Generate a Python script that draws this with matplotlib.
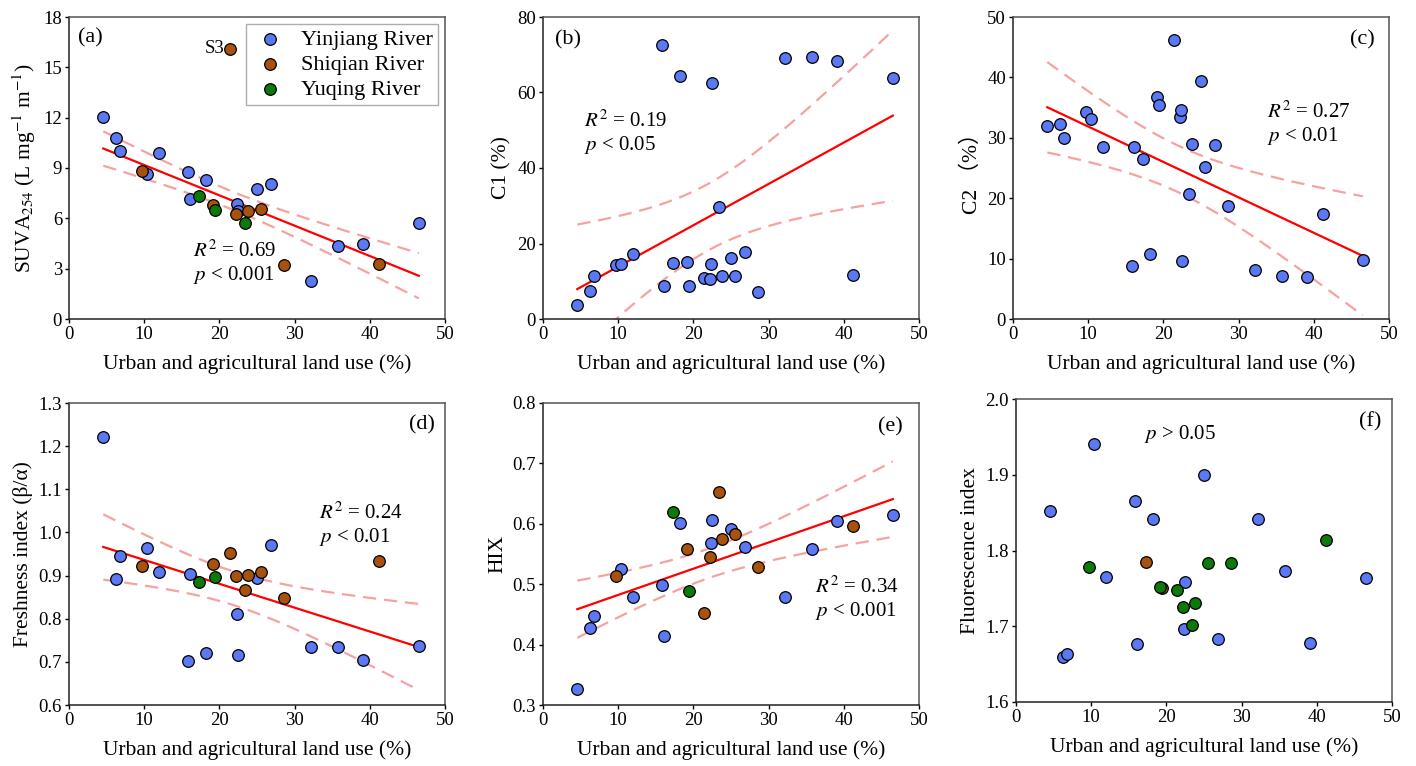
import numpy as np
import matplotlib
matplotlib.use('Agg')
from matplotlib import pyplot as plt

plt.rcParams['font.family'] = ['Liberation Serif', 'Noto Sans CJK SC']
plt.rcParams['mathtext.fontset'] = 'stix'

# land use (%) for each sampling site
land_use = [4.56, 6.2, 6.82, 9.65, 10.36, 11.91, 15.8, 16.12, 17.32, 18.23,
            19.12, 19.4, 21.39, 22.23, 22.28, 22.5, 23.38, 23.82, 25.0, 25.51,
            26.83, 28.65, 32.12, 35.76, 39.08, 41.28, 46.52]

suva = [12.05, 10.77, 10.01, 8.8, 8.66, 9.89, 8.76, 7.18, 7.34, 8.31,
        6.82, 6.5, 16.1, 6.26, 6.84, 6.45, 5.75, 6.42, 7.77, 6.54,
        8.03, 3.23, 2.24, 4.36, 4.5, 3.27, 5.75]
c1 = [3.7, 7.4, 11.45, 14.2, 14.6, 17.1, 72.5, 8.7, 14.8, 64.4,
      15.2, 8.8, 10.9, 10.6, 14.5, 62.6, 29.7, 11.45, 16.1, 11.45,
      17.7, 7.2, 69.1, 69.3, 68.4, 11.6, 63.8]
c2 = [31.94, 32.27, 30.0, 34.3, 33.04, 28.47, 8.81, 28.52, 26.54, 10.74,
      36.78, 35.4, 46.26, 33.37, 34.53, 9.53, 20.7, 28.9, 39.43, 25.1,
      28.8, 18.78, 8.15, 7.2, 6.88, 17.4, 9.75]
bix = [1.222, 0.892, 0.945, 0.922, 0.964, 0.908, 0.703, 0.903, 0.885, 0.720,
       0.926, 0.897, 0.952, 0.898, 0.812, 0.716, 0.867, 0.902, 0.895, 0.908,
       0.970, 0.848, 0.735, 0.735, 0.704, 0.933, 0.736]
hix = [0.326, 0.428, 0.447, 0.513, 0.525, 0.479, 0.498, 0.414, 0.620, 0.602,
       0.558, 0.489, 0.453, 0.545, 0.568, 0.607, 0.653, 0.575, 0.591, 0.583,
       0.562, 0.528, 0.479, 0.559, 0.605, 0.597, 0.614]
fi = [1.852, 1.659, 1.663, 1.778, 1.940, 1.765, 1.865, 1.676, 1.785, 1.841,
      1.752, 1.751, 1.748, 1.725, 1.696, 1.758, 1.701, 1.731, 1.900, 1.783,
      1.683, 1.783, 1.842, 1.773, 1.678, 1.814, 1.764]

# marker colour per site: B = Yinjiang, O = Shiqian, G = Yuqing
grp_a = "BBBOBBBBGBOGOOBBGOBOBOBBBOB"
grp_all_b = "B" * 27
grp_de = "BBBOBBBBGBOGOOBBOOBOBOBBBOB"
grp_f = "BBBGBBBBOBGOGGBBGGBGBGBBBGB"

colors = {'B': '#5b78f5', 'O': '#a8520f', 'G': '#0b7a0b'}
names = {'B': 'Yinjiang River', 'O': 'Shiqian River', 'G': 'Yuqing River'}

# tag, y data, colours, ylim, yticks, ylabel, stats text, stats pos, tag pos
panels = [
    ('(a)', suva, grp_a, (0, 18), [0, 3, 6, 9, 12, 15, 18],
     r'SUVA$_{254}$ (L mg$^{-1}$ m$^{-1}$)', ['$R^2$ = 0.69', '$p$ < 0.001'],
     (0.33, 0.26), (0.025, 0.93, 'left')),
    ('(b)', c1, grp_all_b, (0, 80), [0, 20, 40, 60, 80],
     'C1 (%)', ['$R^2$ = 0.19', '$p$ < 0.05'],
     (0.11, 0.69), (0.032, 0.924, 'left')),
    ('(c)', c2, grp_all_b, (0, 50), [0, 10, 20, 30, 40, 50],
     'C2 （%）', ['$R^2$ = 0.27', '$p$ < 0.01'],
     (0.675, 0.72), (0.963, 0.924, 'right')),
    ('(d)', bix, grp_de, (0.6, 1.3), [0.6, 0.7, 0.8, 0.9, 1.0, 1.1, 1.2, 1.3],
     'Freshness index (β/α)', ['$R^2$ = 0.24', '$p$ < 0.01'],
     (0.665, 0.67), (0.973, 0.927, 'right')),
    ('(e)', hix, grp_de, (0.3, 0.8), [0.3, 0.4, 0.5, 0.6, 0.7, 0.8],
     'HIX', ['$R^2$ = 0.34', '$p$ < 0.001'],
     (0.723, 0.425), (0.957, 0.92, 'right')),
    ('(f)', fi, grp_f, (1.6, 2.0), [1.6, 1.7, 1.8, 1.9, 2.0],
     'Fluorescence index', None, None, (0.973, 0.925, 'right')),
]

# axes boxes in pixels (left, top, right, bottom)
boxes = [(69, 17, 445, 319), (543, 17, 919, 319), (1013, 17, 1389, 319),
         (69, 403, 445, 705), (543, 403, 919, 705), (1016, 399, 1392, 702)]

W, H = 1416, 766
fig = plt.figure(figsize=(W / 100, H / 100), dpi=100)

t_val = 2.06

for i, (tag, yv, grp, ylim, yticks, ylab, stats, spos, tpos) in enumerate(panels):
    l, t, r, b = boxes[i]
    ax = fig.add_axes([l / W, 1 - b / H, (r - l) / W, (b - t) / H])
    x = np.array(land_use)
    y = np.array(yv)

    if stats is not None:
        mask = np.ones(len(x), bool)
        if tag == '(a)':
            mask[12] = False  # S3 left out of the fit
        xf, yf = x[mask], y[mask]
        n = len(xf)
        k, c0 = np.polyfit(xf, yf, 1)
        resid = yf - (k * xf + c0)
        s = np.sqrt(np.sum(resid ** 2) / (n - 2))
        xx = np.linspace(xf.min(), xf.max(), 100)
        yy = k * xx + c0
        se = s * np.sqrt(1 / n + (xx - xf.mean()) ** 2 / np.sum((xf - xf.mean()) ** 2))
        ax.plot(xx, yy + t_val * se, color='#f7a1a1', lw=1.6, ls=(0, (6, 3.5)), zorder=1)
        ax.plot(xx, yy - t_val * se, color='#f7a1a1', lw=1.6, ls=(0, (6, 3.5)), zorder=1)
        ax.plot(xx, yy, color='#ff0000', lw=1.6, zorder=2)

    for code in ['B', 'O', 'G']:
        idx = [j for j, g in enumerate(grp) if g == code]
        if not idx:
            continue
        ax.scatter(x[idx], y[idx], s=70, c=colors[code], edgecolors='black',
                   linewidths=0.9, zorder=3, label=names[code])

    ax.set_xlim(0, 50)
    ax.set_ylim(*ylim)
    ax.set_xticks([0, 10, 20, 30, 40, 50])
    ax.set_yticks(yticks)
    if yticks[1] % 1 != 0:
        ax.set_yticklabels([f'{v:.1f}' for v in yticks])
    ax.tick_params(direction='out', length=3, width=1, labelsize=13.5, pad=2,
                   top=False, right=False)
    for sp in ['left', 'bottom']:
        ax.spines[sp].set_color('#222222')
        ax.spines[sp].set_linewidth(1.1)
    for sp in ['top', 'right']:
        ax.spines[sp].set_color('#555555')
        ax.spines[sp].set_linewidth(1.1)

    ax.set_ylabel(ylab, fontsize=15.5, labelpad=4)
    ax.set_xlabel('Urban and agricultural land use (%)', fontsize=15.5, labelpad=8)

    ax.text(tpos[0], tpos[1], tag, transform=ax.transAxes, fontsize=16,
            va='center', ha=tpos[2])

    if stats is not None:
        ax.text(spos[0], spos[1], stats[0] + '\n' + stats[1], transform=ax.transAxes,
                fontsize=15, va='top', ha='left', linespacing=1.15)

    if tag == '(a)':
        ax.annotate('S3', (x[12], y[12]), xytext=(-4, 0), textcoords='offset points',
                    ha='right', va='center', fontsize=13.5)
        leg = ax.legend(loc='upper right', fontsize=16, frameon=True, fancybox=False,
                        edgecolor='#999999', handletextpad=0.6, borderpad=0.25,
                        labelspacing=0.2, handlelength=1.6, borderaxespad=0.3,
                        scatterpoints=1)
        leg.get_frame().set_linewidth(1.0)
    if tag == '(f)':
        ax.text(0.34, 0.92, '$p$ > 0.05', transform=ax.transAxes, fontsize=15,
                va='top', ha='left')

fig.savefig('out.png', dpi=100)
